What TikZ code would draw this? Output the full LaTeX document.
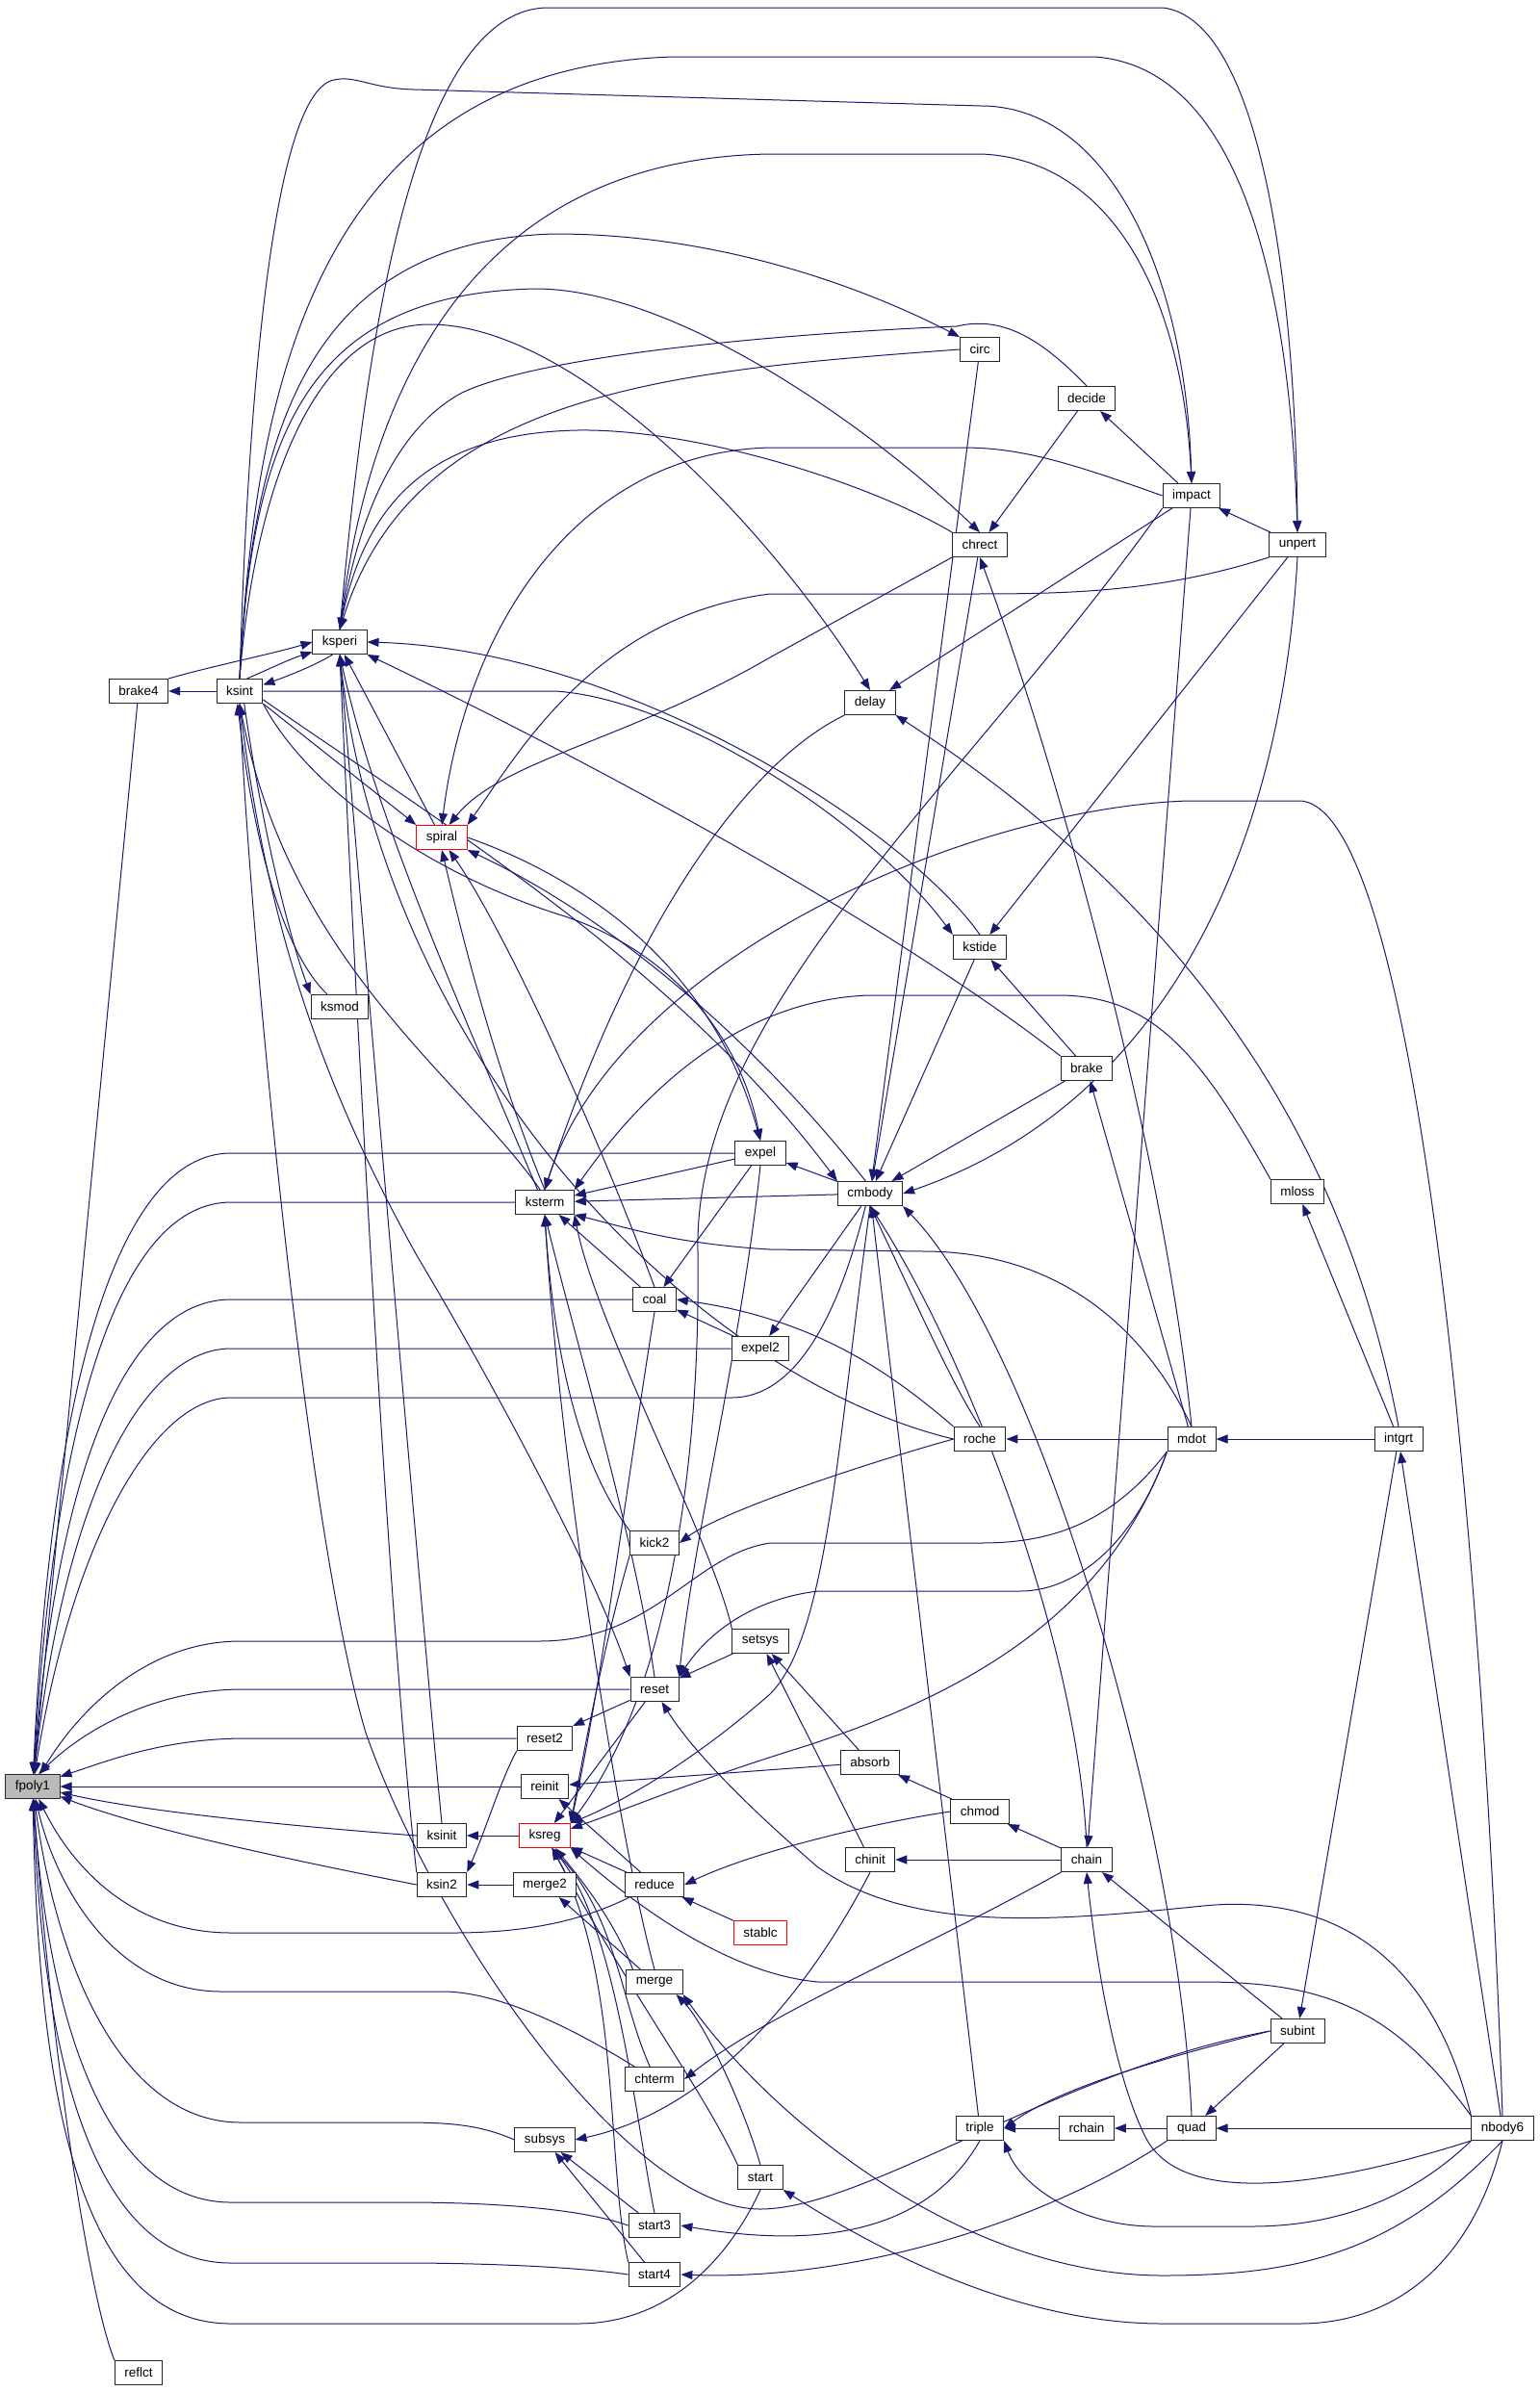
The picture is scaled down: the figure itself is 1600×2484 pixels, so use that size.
\documentclass[tikz,border=0pt]{standalone}
\usepackage{fontspec}
\setmainfont{Liberation Sans}
\usetikzlibrary{arrows.meta,backgrounds}

\definecolor{callblue}{HTML}{191970}

\tikzset{
  fn/.style={draw=black!85, fill=white, line width=1pt, minimum height=25pt,
    inner xsep=10pt, inner ysep=0pt, font=\fontsize{13.5}{16}\selectfont},
  fnroot/.style={fn, fill=black!27},
  fntrunc/.style={fn, draw=red},
  call/.style={draw=callblue, line width=1pt, -{Triangle[length=12pt,width=9pt]}}
}

\begin{document}
\begin{tikzpicture}[x=1pt,y=-1pt]
\useasboundingbox (0,0) rectangle (1600,2484);

%functions
\node[fnroot] (fpoly1) at (34,1856) {fpoly1};
\node[fn] (brake4) at (144,718) {brake4};
\node[fn] (reflct) at (144,2465) {reflct};
\node[fn] (ksint) at (249,718) {ksint};
\node[fn] (ksperi) at (353,667) {ksperi};
\node[fn] (ksmod) at (353,1046) {ksmod};
\node[fntrunc] (spiral) at (459,870) {spiral};
\node[fn] (ksinit) at (459,1907) {ksinit};
\node[fn] (ksin2) at (459,1958) {ksin2};
\node[fn] (ksterm) at (566,1249) {ksterm};
\node[fn] (reset2) at (566,1806) {reset2};
\node[fn] (reinit) at (566,1856) {reinit};
\node[fntrunc] (ksreg) at (566,1907) {ksreg};
\node[fn] (merge2) at (566,1958) {merge2};
\node[fn] (subsys) at (566,2223) {subsys};
\node[fn] (coal) at (680,1350) {coal};
\node[fn] (kick2) at (680,1603) {kick2};
\node[fn] (reset) at (680,1755) {reset};
\node[fn] (reduce) at (680,1958) {reduce};
\node[fn] (merge) at (680,2059) {merge};
\node[fn] (chterm) at (680,2160) {chterm};
\node[fn] (start3) at (680,2312) {start3};
\node[fn] (start4) at (680,2363) {start4};
\node[fn] (expel) at (790,1198) {expel};
\node[fn] (expel2) at (790,1401) {expel2};
\node[fn] (setsys) at (790,1705) {setsys};
\node[fntrunc] (stablc) at (790,2008) {stablc};
\node[fn] (start) at (790,2262) {start};
\node[fn] (delay) at (904,730) {delay};
\node[fn] (cmbody) at (904,1240) {cmbody};
\node[fn] (absorb) at (904,1831) {absorb};
\node[fn] (chinit) at (904,1932) {chinit};
\node[fn] (circ) at (1018,363) {circ};
\node[fn] (chrect) at (1018,566) {chrect};
\node[fn] (kstide) at (1018,984) {kstide};
\node[fn] (roche) at (1018,1495) {roche};
\node[fn] (chmod) at (1018,1882) {chmod};
\node[fn] (triple) at (1018,2211) {triple};
\node[fn] (decide) at (1129,414) {decide};
\node[fn] (brake) at (1129,1110) {brake};
\node[fn] (chain) at (1129,1932) {chain};
\node[fn] (rchain) at (1129,2211) {rchain};
\node[fn] (impact) at (1238,515) {impact};
\node[fn] (mdot) at (1238,1495) {mdot};
\node[fn] (quad) at (1238,2211) {quad};
\node[fn] (unpert) at (1348,566) {unpert};
\node[fn] (mloss) at (1348,1238) {mloss};
\node[fn] (subint) at (1348,2110) {subint};
\node[fn] (intgrt) at (1453,1495) {intgrt};
\node[fn] (nbody6) at (1561,2211) {nbody6};

\begin{scope}[on background layer]
%calls into fpoly1
\draw[call] (brake4) -- (fpoly1);
\draw[call] (expel) -- (240,1198) .. controls (120,1198) and (52,1450) .. (fpoly1);
\draw[call] (ksterm) -- (240,1249) .. controls (130,1249) and (58,1450) .. (fpoly1);
\draw[call] (coal) -- (240,1350) .. controls (140,1350) and (62,1500) .. (fpoly1);
\draw[call] (expel2) -- (240,1401) .. controls (150,1401) and (68,1550) .. (fpoly1);
\draw[call] (cmbody.250) .. controls (880,1330) and (840,1452) .. (760,1452) -- (240,1452) .. controls (160,1452) and (75,1600) .. (fpoly1);
\draw[call] (mdot.south west) .. controls (1150,1590) and (1080,1603) .. (1019,1603) -- (800,1603) .. controls (720,1615) and (680,1705) .. (560,1705) -- (250,1705) .. controls (150,1705) and (80,1780) .. (fpoly1);
\draw[call] (reset) -- (252,1755) .. controls (170,1755) and (95,1790) .. (fpoly1.65);
\draw[call] (reset2) -- (255,1806) .. controls (170,1806) and (110,1830) .. (fpoly1.20);
\draw[call] (reinit) -- (fpoly1);
\draw[call] (ksinit.west) .. controls (300,1897) and (150,1882) .. (fpoly1.-12);
\draw[call] (ksin2.west) .. controls (300,1932) and (150,1900) .. (fpoly1.-20);
\draw[call] (reduce) .. controls (600,1998) and (540,2008) .. (470,2008) -- (240,2008) .. controls (130,2008) and (70,1930) .. (fpoly1);
\draw[call] (chterm) .. controls (600,2110) and (520,2069) .. (460,2069) -- (230,2069) .. controls (120,2069) and (58,1960) .. (fpoly1);
\draw[call] (subsys.west) .. controls (500,2208) and (470,2205) .. (420,2205) -- (250,2205) .. controls (130,2205) and (60,2050) .. (fpoly1);
\draw[call] (start3.west) .. controls (600,2293) and (500,2288) .. (420,2288) -- (240,2288) .. controls (110,2288) and (50,2100) .. (fpoly1);
\draw[call] (start4.west) .. controls (600,2355) and (500,2351) .. (420,2351) -- (240,2351) .. controls (100,2351) and (45,2150) .. (fpoly1);
\draw[call] (start.south) .. controls (760,2340) and (700,2414) .. (600,2414) -- (240,2414) .. controls (90,2414) and (40,2200) .. (fpoly1);
\draw[call] (reflct.north west) .. controls (90,2380) and (50,2100) .. (fpoly1);

%ksint and ksperi
\draw[call] (ksint) -- (brake4);
\draw[call] (brake4.north east) .. controls (220,692) and (280,680) .. (ksperi.west);
\draw[call] (ksint.60) .. controls (280,695) and (300,685) .. (ksperi.200);
\draw[call] (ksperi.-120) .. controls (330,690) and (300,702) .. (ksint.15);
\draw[call] (ksperi.north) .. controls (380,350) and (430,8) .. (570,8) -- (1208,8) .. controls (1310,20) and (1346,300) .. (unpert.north);
\draw[call] (ksint.north) .. controls (265,400) and (330,70) .. (700,59) -- (1137,59) .. controls (1290,70) and (1340,300) .. (unpert.north);
\draw[call] (ksint.north) .. controls (258,400) and (285,95) .. (347,83) .. controls (370,78) and (385,92) .. (430,93) -- (1019,110) .. controls (1150,110) and (1232,280) .. (impact.north);
\draw[call] (ksperi.north) .. controls (380,420) and (480,165) .. (800,160) -- (1019,160) .. controls (1150,165) and (1228,300) .. (impact.north);
\draw[call] (ksint.north) .. controls (262,450) and (320,250) .. (576,243) .. controls (750,243) and (900,300) .. (circ.north west);
\draw[call] (circ.west) .. controls (700,385) and (430,405) .. (ksperi.north);
\draw[call] (decide.north) .. controls (1080,350) and (1040,328) .. (994,339) .. controls (800,347) and (560,370) .. (480,408) .. controls (420,440) and (375,520) .. (ksperi.north);
\draw[call] (ksint.north) .. controls (262,450) and (320,305) .. (556,300) .. controls (700,300) and (900,440) .. (chrect.north);
\draw[call] (chrect.north west) .. controls (900,500) and (720,445) .. (600,447) .. controls (450,450) and (380,520) .. (ksperi.north);
\draw[call] (ksint.north) .. controls (265,500) and (330,337) .. (446,337) .. controls (600,337) and (800,550) .. (delay.north);
\draw[call] (ksint.-70) .. controls (275,880) and (305,985) .. (ksmod.north west);
\draw[call] (ksmod.135) .. controls (290,985) and (262,860) .. (ksint.-100);
\draw[call] (subint.west) .. controls (1100,2150) and (900,2295) .. (790,2295) .. controls (650,2295) and (450,2000) .. (380,1800) .. controls (320,1600) and (262,1000) .. (ksint.south);
\draw[call] (ksint.south) .. controls (275,950) and (330,1120) .. (434,1306) .. controls (520,1450) and (620,1640) .. (reset.north west);
\draw[call] (ksterm.110) .. controls (480,1120) and (300,1000) .. (ksint.south);
\draw[call] (ksint.south east) .. controls (320,820) and (450,910) .. (587,952) .. controls (700,990) and (770,1080) .. (expel.north);
\draw[call] (ksint.-20) .. controls (450,850) and (700,1000) .. (cmbody.north west);
\draw[call] (ksint.east) -- (576,718) .. controls (700,725) and (900,850) .. (kstide.north west);
\draw[call] (kstide.north) .. controls (940,860) and (650,675) .. (ksperi.east);
\draw[call] (brake.north west) .. controls (900,940) and (550,760) .. (ksperi.south east);
\draw[call] (roche.west) .. controls (720,1430) and (400,1100) .. (ksperi.south);
\draw[call] (ksin2.north west) .. controls (405,1700) and (372,1100) .. (ksperi.south);
\draw[call] (ksinit.north) .. controls (440,1700) and (380,1000) .. (ksperi.south);
\draw[call] (ksterm.120) .. controls (480,1050) and (390,850) .. (ksperi.south);

%spiral
\draw[call] (ksint.south east) -- (spiral.north west);
\draw[call] (spiral.120) -- (ksperi.-70);
\draw[call] (impact.west) .. controls (1110,480) and (1060,465) .. (1000,465) -- (800,465) .. controls (600,470) and (485,650) .. (spiral.north);
\draw[call] (chrect.south west) -- (800,683) .. controls (650,770) and (520,790) .. (spiral.60);
\draw[call] (unpert.south west) .. controls (1200,617) and (1100,617) .. (1000,617) -- (800,617) .. controls (620,640) and (540,780) .. (spiral.north east);
\draw[call] (spiral.east) .. controls (600,910) and (740,1000) .. (expel.north);
\draw[call] (cmbody.110) .. controls (800,1100) and (650,960) .. (spiral.south east);
\draw[call] (ksterm.north) .. controls (510,1100) and (475,950) .. (spiral.south);
\draw[call] (coal.north) .. controls (610,1150) and (520,960) .. (spiral.-60);

%ksterm, coal, expel
\draw[call] (expel) -- (ksterm);
\draw[call] (cmbody) -- (ksterm);
\draw[call] (coal) -- (ksterm);
\draw[call] (expel) -- (coal);
\draw[call] (expel2) -- (coal);
\draw[call] (cmbody) -- (expel);
\draw[call] (cmbody) -- (expel2);
\draw[call] (roche.north west) .. controls (930,1430) and (850,1370) .. (coal.east);
\draw[call] (mdot.north) .. controls (1180,1360) and (1080,1300) .. (960,1300) -- (800,1298) .. controls (700,1292) and (650,1275) .. (ksterm.south east);
\draw[call] (delay.south west) .. controls (780,790) and (660,950) .. (ksterm.north);
\draw[call] (mloss.north west) .. controls (1250,1100) and (1200,1034) .. (1100,1034) -- (902,1034) .. controls (750,1040) and (650,1160) .. (ksterm.north east);
\draw[call] (nbody6.north) .. controls (1545,1700) and (1480,840) .. (1351,832) -- (1234,832) .. controls (1000,840) and (640,1000) .. (ksterm.north);
\draw[call] (reset.north) .. controls (660,1600) and (600,1400) .. (ksterm.south);
\draw[call] (kick2.north west) .. controls (600,1520) and (575,1400) .. (ksterm.south);
\draw[call] (setsys.north west) .. controls (740,1600) and (620,1380) .. (ksterm.south east);
\draw[call] (merge.north) .. controls (640,1900) and (580,1500) .. (ksterm.south);
\draw[call] (roche.west) .. controls (900,1520) and (750,1570) .. (kick2.east);

%upper right
\draw[call] (unpert) -- (impact);
\draw[call] (impact) -- (decide);
\draw[call] (impact) -- (delay);
\draw[call] (decide) -- (chrect);
\draw[call] (impact) -- (chain);
\draw[call] (circ) -- (cmbody);
\draw[call] (chrect) -- (cmbody);
\draw[call] (kstide) -- (cmbody);
\draw[call] (brake) -- (cmbody);
\draw[call] (unpert.south) .. controls (1330,900) and (1200,1150) .. (cmbody.east);
\draw[call] (unpert) -- (kstide);
\draw[call] (brake) -- (kstide);
\draw[call] (mdot.north) .. controls (1210,1200) and (1100,800) .. (chrect.south);
\draw[call] (mdot) -- (brake);
\draw[call] (mdot) -- (roche);
\draw[call] (intgrt) -- (mdot);
\draw[call] (intgrt) -- (mloss);
\draw[call] (intgrt.north) .. controls (1400,1200) and (1250,950) .. (delay.south east);
\draw[call] (roche.north) .. controls (990,1440) and (950,1350) .. (cmbody.south);
\draw[call] (chain.north) .. controls (1120,1700) and (1000,1400) .. (cmbody.south);
\draw[call] (quad.north) .. controls (1225,1900) and (1080,1400) .. (cmbody.south east);
\draw[call] (triple) -- (cmbody);

%ksreg and reset
\draw[call] (impact.south west) .. controls (1000,820) and (720,1050) .. (725,1300) .. controls (728,1500) and (700,1750) .. (ksreg.north east);
\draw[call] (cmbody.south) .. controls (870,1500) and (860,1700) .. (800,1760) .. controls (720,1830) and (650,1870) .. (ksreg.north east);
\draw[call] (mdot.south west) .. controls (1150,1680) and (1000,1760) .. (840,1813) .. controls (720,1850) and (650,1880) .. (ksreg.15);
\draw[call] (mdot.south west) .. controls (1180,1600) and (1120,1653) .. (1060,1653) -- (850,1653) .. controls (790,1660) and (740,1690) .. (reset.north east);
\draw[call] (expel.south) .. controls (770,1400) and (720,1600) .. (reset.north east);
\draw[call] (reset) -- (ksreg);
\draw[call] (coal.south) .. controls (650,1550) and (625,1750) .. (ksreg.north east);
\draw[call] (kick2.south west) .. controls (630,1700) and (610,1800) .. (ksreg.north east);
\draw[call] (setsys) -- (reset);
\draw[call] (reset) -- (reset2);
\draw[call] (reset2.south west) .. controls (520,1850) and (505,1900) .. (ksin2.north east);
\draw[call] (ksreg) -- (ksinit);
\draw[call] (merge2) -- (ksin2);
\draw[call] (merge) -- (merge2);
\draw[call] (absorb) -- (reinit);
\draw[call] (reduce) -- (reinit);
\draw[call] (reduce) -- (ksreg);
\draw[call] (stablc) -- (reduce);
\draw[call] (merge.150) .. controls (640,2000) and (610,1960) .. (ksreg.-50);
\draw[call] (chterm.110) .. controls (645,2080) and (640,1990) .. (ksreg.-60);
\draw[call] (start3.north) .. controls (660,2200) and (640,2000) .. (ksreg.-60);
\draw[call] (start4.north west) .. controls (630,2250) and (645,2050) .. (ksreg.-60);
\draw[call] (start.north west) .. controls (730,2170) and (660,2080) .. (ksreg.-60);
\draw[call] (start.north) .. controls (770,2180) and (730,2100) .. (merge.-30);

%chain block
\draw[call] (chmod.west) .. controls (900,1895) and (780,1925) .. (reduce.east);
\draw[call] (absorb) -- (setsys);
\draw[call] (chinit) -- (setsys);
\draw[call] (chmod) -- (absorb);
\draw[call] (chain) -- (chmod);
\draw[call] (chain) -- (chinit);
\draw[call] (chain.south west) .. controls (950,2030) and (800,2090) .. (chterm.east);
\draw[call] (chinit.south) .. controls (850,2050) and (750,2190) .. (subsys.east);
\draw[call] (start3) -- (subsys);
\draw[call] (start4) -- (subsys);
\draw[call] (triple.south) .. controls (980,2290) and (900,2345) .. (start3.east);
\draw[call] (quad.south west) .. controls (1100,2300) and (900,2370) .. (start4.east);

%nbody6 and subint
\draw[call] (nbody6) -- (intgrt);
\draw[call] (intgrt) -- (subint);
\draw[call] (subint) -- (quad);
\draw[call] (subint.west) .. controls (1200,2140) and (1100,2170) .. (triple.east);
\draw[call] (subint) -- (chain);
\draw[call] (nbody6) -- (quad);
\draw[call] (quad) -- (rchain);
\draw[call] (rchain) -- (triple);
\draw[call] (nbody6.south west) .. controls (1450,2300) and (1360,2313) .. (1300,2313) -- (1200,2313) .. controls (1120,2313) and (1060,2270) .. (triple.south east);
\draw[call] (nbody6.south west) .. controls (1400,2265) and (1230,2300) .. (1190,2220) .. controls (1160,2160) and (1140,2050) .. (chain.south);
\draw[call] (nbody6.south) .. controls (1450,2340) and (1350,2364) .. (1208,2364) .. controls (1000,2364) and (800,2200) .. (merge.south east);
\draw[call] (nbody6.south) .. controls (1530,2350) and (1450,2414) .. (1350,2414) -- (1208,2414) .. controls (1050,2414) and (900,2330) .. (start.south east);
\draw[call] (nbody6.north west) .. controls (1480,2000) and (1350,1970) .. (1250,1980) .. controls (1100,1995) and (950,2010) .. (850,1940) .. controls (780,1880) and (720,1820) .. (reset.-60);
\draw[call] (nbody6.north west) .. controls (1450,2090) and (1380,2059) .. (1250,2059) -- (850,2059) .. controls (750,2050) and (650,1970) .. (ksreg.south east);
\end{scope}

\end{tikzpicture}
\end{document}
